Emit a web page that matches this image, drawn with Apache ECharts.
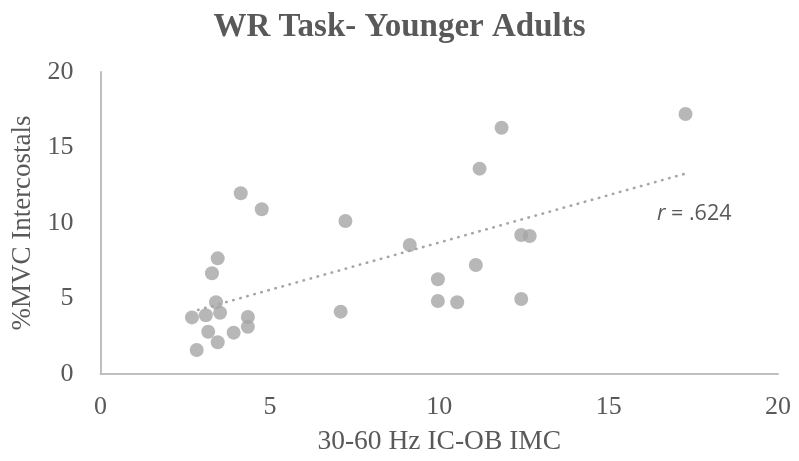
<!DOCTYPE html>
<html>
<head>
<meta charset="utf-8">
<script src="https://cdn.jsdelivr.net/npm/echarts@6/dist/echarts.min.js"></script>
<style>
html,body{margin:0;padding:0;background:#fff;}
#chart{width:799px;height:461px;}
</style>
</head>
<body>
<div id="chart"></div>
<script>
const imcValues = [17.27, 11.84, 11.19, 4.14, 4.76, 7.23, 9.13, 12.42, 12.67, 3.46, 3.29, 9.96, 11.08, 3.41, 9.96, 10.53, 12.42, 7.09, 3.53, 2.70, 3.11, 4.35, 4.35, 3.18, 3.93, 3.46, 2.84];
const mvcValues = [17.22, 16.31, 13.60, 11.97, 10.91, 10.13, 8.54, 9.21, 9.14, 7.66, 6.67, 6.27, 7.22, 4.75, 4.83, 4.75, 4.97, 4.13, 4.06, 3.75, 3.89, 3.77, 3.13, 2.80, 2.74, 2.10, 1.59];
const trendX = [2.88, 17.24];
const trendY = [4.24, 13.25];
const xTicks = [0, 5, 10, 15, 20];
const yTicks = [0, 5, 10, 15, 20];
const titleText = 'WR Task- Younger Adults';
const xName = '30-60 Hz IC-OB IMC';
const yName = '%MVC Intercostals';
const rText = '.624';

const points = imcValues.map((x, i) => [x, mvcValues[i]]);
const trend = trendX.map((x, i) => [x, trendY[i]]);

const serif = '"Liberation Serif", "Times New Roman", serif';
const sans = '"Open Sans", "Liberation Sans", sans-serif';
const chart = echarts.init(document.getElementById('chart'), null, {renderer: 'canvas'});
chart.setOption({
  animation: false,
  backgroundColor: '#ffffff',
  title: {
    text: titleText,
    left: 'center',
    top: 6,
    textStyle: {fontFamily: serif, fontWeight: 'bold', fontSize: 33, color: '#595959'}
  },
  grid: {left: 100.5, right: 21, top: 72, bottom: 87},
  xAxis: {
    type: 'value', min: xTicks[0], max: xTicks[xTicks.length - 1], interval: 5,
    name: xName, nameLocation: 'middle', nameGap: 54,
    nameTextStyle: {fontFamily: serif, fontSize: 27.5, color: '#595959'},
    axisLine: {show: true, lineStyle: {color: '#bfbfbf', width: 2}},
    axisTick: {show: false},
    splitLine: {show: false},
    axisLabel: {fontFamily: serif, fontSize: 26, color: '#595959', margin: 20}
  },
  yAxis: {
    type: 'value', min: yTicks[0], max: yTicks[yTicks.length - 1], interval: 5,
    name: yName, nameLocation: 'middle', nameGap: 59, nameRotate: 90,
    nameTextStyle: {fontFamily: serif, fontSize: 27, color: '#595959'},
    axisLine: {show: true, lineStyle: {color: '#bfbfbf', width: 2}},
    axisTick: {show: false},
    splitLine: {show: false},
    axisLabel: {fontFamily: serif, fontSize: 26, color: '#595959', margin: 27}
  },
  series: [
    {
      type: 'line', data: trend, symbol: 'none', silent: true,
      lineStyle: {color: '#a6a6a6', width: 2.6, type: [0.5, 6.8], cap: 'round'}
    },
    {
      type: 'scatter', data: points, symbol: 'circle', symbolSize: 14,
      itemStyle: {color: '#a5a5a5'}
    }
  ],
  graphic: [{
    type: 'text', left: 657, top: 203,
    style: {
      text: '{i|r} = ' + rText,
      rich: {i: {fontStyle: 'italic', fontFamily: sans, fontSize: 21.5, fill: '#595959'}},
      fontFamily: sans, fontSize: 21.5, fill: '#595959'
    }
  }]
});
</script>
</body>
</html>
